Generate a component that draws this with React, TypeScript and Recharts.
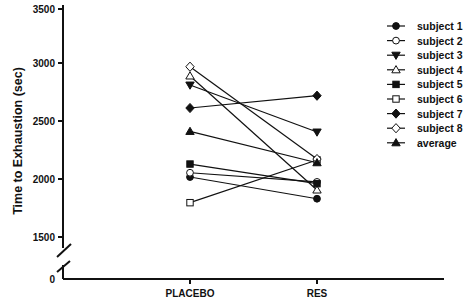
import React from "react";
import { LineChart, Line, XAxis, YAxis, ReferenceLine, Label } from "recharts";

const categories = ["PLACEBO", "RES"];
const subject1 = [2017, 1830];
const subject2 = [2054, 1975];
const subject3 = [2810, 2405];
const subject4 = [2888, 1905];
const subject5 = [2129, 1960];
const subject6 = [1796, 2164];
const subject7 = [2612, 2718];
const subject8 = [2968, 2172];
const average = [2410, 2140];

// broken axis: the floor of the drawn axis is labelled 0
const AXIS_FLOOR = 1138;
const yTickValues = [AXIS_FLOOR, 1500, 2000, 2500, 3000, 3500];
const yTickLabels = ["0", "1500", "2000", "2500", "3000", "3500"];
const xTickValues = [1, 2];

type Shape = "circle" | "triangleDown" | "triangleUp" | "square" | "diamond";

const series: { key: string; name: string; values: number[]; shape: Shape; filled: boolean }[] = [
  { key: "s1", name: "subject 1", values: subject1, shape: "circle", filled: true },
  { key: "s2", name: "subject 2", values: subject2, shape: "circle", filled: false },
  { key: "s3", name: "subject 3", values: subject3, shape: "triangleDown", filled: true },
  { key: "s4", name: "subject 4", values: subject4, shape: "triangleUp", filled: false },
  { key: "s5", name: "subject 5", values: subject5, shape: "square", filled: true },
  { key: "s6", name: "subject 6", values: subject6, shape: "square", filled: false },
  { key: "s7", name: "subject 7", values: subject7, shape: "diamond", filled: true },
  { key: "s8", name: "subject 8", values: subject8, shape: "diamond", filled: false },
  { key: "avg", name: "average", values: average, shape: "triangleUp", filled: true },
];

const data = categories.map((c, i) => {
  const row: Record<string, number | string> = { x: i + 1, name: c };
  series.forEach((s) => {
    row[s.key] = s.values[i];
  });
  return row;
});

const INK = "#111";
const FONT = "'Liberation Sans', Arial, sans-serif";

function Marker({ cx, cy, shape, filled }: { cx: number; cy: number; shape: Shape; filled: boolean }) {
  const fill = filled ? INK : "#fff";
  const common = { fill, stroke: INK, strokeWidth: 1 };
  if (cx == null || cy == null) return null;
  switch (shape) {
    case "circle":
      return <circle cx={cx} cy={cy} r={3.4} {...common} />;
    case "square":
      return <rect x={cx - 3.2} y={cy - 3.2} width={6.4} height={6.4} {...common} />;
    case "triangleUp":
      return <polygon points={`${cx},${cy - 4.2} ${cx + 4.2},${cy + 3} ${cx - 4.2},${cy + 3}`} {...common} />;
    case "triangleDown":
      return <polygon points={`${cx},${cy + 4.2} ${cx + 4.2},${cy - 3} ${cx - 4.2},${cy - 3}`} {...common} />;
    case "diamond":
      return <polygon points={`${cx},${cy - 4.6} ${cx + 4.2},${cy} ${cx},${cy + 4.6} ${cx - 4.2},${cy}`} {...common} />;
  }
  return null;
}

const LegendBox = () => (
  <svg width={86} height={135} style={{ display: "block", position: "absolute", left: 383, top: 18 }}>
    {series.map((s, i) => {
      const y = 8 + i * 14.6;
      return (
        <g key={s.key}>
          <line x1={4} x2={22} y1={y} y2={y} stroke={INK} strokeWidth={1.2} />
          <Marker cx={13} cy={y} shape={s.shape} filled={s.filled} />
          <text x={34} y={y} dominantBaseline="central" fontFamily={FONT} fontWeight="bold" fontSize={10.5} fill={INK}>
            {s.name}
          </text>
        </g>
      );
    })}
  </svg>
);

const YTick = (props: any) => {
  const { x, y, payload } = props;
  const idx = yTickValues.indexOf(payload.value);
  const axisX = x + 8;
  return (
    <g>
      {idx > 0 && <line x1={axisX - 5} x2={axisX} y1={y} y2={y} stroke={INK} strokeWidth={2} />}
      <text x={axisX - 8} y={y} textAnchor="end" dominantBaseline="central" fontFamily={FONT} fontWeight="bold" fontSize={10} fill={INK}>
        {yTickLabels[idx]}
      </text>
    </g>
  );
};

export default function App() {
  return (
    <div style={{ position: "absolute", left: 0, top: 0, width: 469, height: 302, background: "#fff" }}>
      <LineChart width={469} height={302} data={data} margin={{ top: 5, right: 25, bottom: 0, left: 0 }}>
        <XAxis
          dataKey="x"
          type="number"
          domain={[0, 3]}
          ticks={xTickValues}
          tickFormatter={(v: number) => categories[v - 1]}
          height={23}
          axisLine={{ stroke: INK, strokeWidth: 2 }}
          tickLine={{ stroke: INK, strokeWidth: 2 }}
          tickSize={5}
          tickMargin={6}
          tick={{ fill: INK, fontFamily: FONT, fontWeight: "bold", fontSize: 10 }}
        />
        <YAxis
          type="number"
          domain={[AXIS_FLOOR, 3500]}
          ticks={yTickValues}
          allowDataOverflow
          width={63}
          axisLine={false}
          tickLine={false}
          tickSize={5}
          tickMargin={3}
          tick={<YTick />}
        >
          <Label
            content={(p: any) => {
              const vb = p.viewBox || { x: 0, y: 5, width: 63, height: 274 };
              const cx = 18;
              const cy = vb.y + vb.height / 2 - 1;
              return (
                <text
                  x={cx}
                  y={cy}
                  transform={`rotate(-90 ${cx} ${cy})`}
                  textAnchor="middle"
                  dominantBaseline="central"
                  fontFamily={FONT}
                  fontWeight="bold"
                  fontSize={12.5}
                  fill={INK}
                >
                  Time to Exhaustion (sec)
                </text>
              );
            }}
          />
        </YAxis>
        <ReferenceLine segment={[{ x: 0, y: 3500 }, { x: 0, y: 1405 }]} stroke={INK} strokeWidth={2} ifOverflow="visible" />
        <ReferenceLine segment={[{ x: -0.047, y: 1328 }, { x: 0.063, y: 1440 }]} stroke={INK} strokeWidth={2} ifOverflow="visible" />
        <ReferenceLine segment={[{ x: -0.047, y: 1198 }, { x: 0.055, y: 1293 }]} stroke={INK} strokeWidth={2} ifOverflow="visible" />
        <ReferenceLine segment={[{ x: 0, y: 1259 }, { x: 0, y: AXIS_FLOOR }]} stroke={INK} strokeWidth={2} ifOverflow="visible" />
        {series.map((s) => (
          <Line
            key={s.key}
            dataKey={s.key}
            name={s.name}
            stroke={INK}
            strokeWidth={1.2}
            isAnimationActive={false}
            dot={(p: any) => <Marker key={`${s.key}-${p.index}`} cx={p.cx} cy={p.cy} shape={s.shape} filled={s.filled} />}
            activeDot={false}
          />
        ))}
      </LineChart>
      <LegendBox />
    </div>
  );
}
